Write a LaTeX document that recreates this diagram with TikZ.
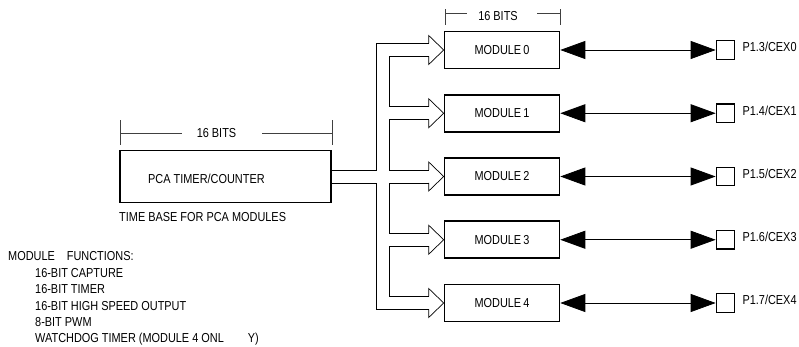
\documentclass[tikz,border=0pt]{standalone}
\usepackage{fontspec}
\setmainfont{Liberation Sans}[FakeStretch=0.84]
\usetikzlibrary{arrows.meta,calc}

\tikzset{
  modbox/.style={draw, line width=1.6pt, minimum width=115pt, minimum height=37pt, inner sep=0pt},
  pcabox/.style={draw, line width=1.6pt, minimum width=211pt, minimum height=52pt},
  pinbox/.style={draw, line width=1.2pt, minimum size=18.5pt, inner sep=0pt},
  lbl/.style={inner sep=0pt, anchor=base west},
  bus/.style={line width=0.7pt},
  dimline/.style={line width=0.7pt, black!75},
  biarrow/.style={line width=0.8pt, {Triangle[length=25pt,width=18pt]}-{Triangle[length=25pt,width=18pt]}},
}

\begin{document}
\begin{tikzpicture}[x=1pt,y=1pt,font=\fontsize{13}{15}\selectfont]
    \useasboundingbox (0,0) rectangle (799,347);
    % timer/counter
    \node[pcabox] (pca) at (225.5,170.5) {};
    \node[lbl] (pcaname) at (148,163.7) {PCA TIMER/COUNTER};
    \node[lbl] (pcabase) at (119,125.3) {TIME BASE FOR PCA MODULES};
    \draw[dimline] (120,202) -- (120,227) (332,202) -- (332,227);
    \draw[dimline] (120,214) -- (182,214) (262,214) -- (332,214);
    \node[inner sep=0pt, anchor=base] (pcabits) at (216.5,209) {16 BITS};
    % modules and pins
    \draw[dimline] (445,322) -- (445,338) (560,322) -- (560,338);
    \draw[dimline] (445,334) -- (467,334) (537,334) -- (560,334);
    \node[inner sep=0pt, anchor=base] (modbits) at (498,326.5) {16 BITS};
    \foreach \i in {0,...,4} {
        \pgfmathtruncatemacro{\pn}{\i+3}
        \node[modbox] (m\i) at (502,{297-63.25*\i}) {MODULE\,\i};
        \node[pinbox] (p\i) at (725.5,{297-63.25*\i}) {};
        \node[lbl] (pl\i) at ($(p\i.east)+(7,-2)$) {P1.\pn/CEX\i};
        \draw[biarrow] (m\i.east) -- (p\i.west);
    }
    % hollow bus
    \foreach \i in {0,...,4} {
        \coordinate (tip\i) at (m\i.west);
        \coordinate (up\i) at ($(tip\i)+(-15,6.5)$);
        \coordinate (lo\i) at ($(tip\i)+(-15,-6.5)$);
        \draw[bus] (up\i) -- ++(0,8) -- (tip\i) -- ($(lo\i)+(0,-8)$) -- (lo\i);
    }
    \coordinate (outer) at (376,0);
    \coordinate (inner) at (389,0);
    \draw[bus] ($(pca.east)+(0,6.5)$) -| (outer |- up0) -- (up0);
    \foreach \i [evaluate=\i as \j using int(\i+1)] in {0,...,3}
        \draw[bus] (lo\i) -| (inner |- up\j) -- (up\j);
    \draw[bus] (lo4) -| ($(outer |- pca.east)+(0,-6.5)$) -- ($(pca.east)+(0,-6.5)$);
    % functions list
    \node[lbl] (funcs) at (8,86) {MODULE\hspace{12pt}FUNCTIONS:};
    \foreach \t [count=\k] in {16-BIT CAPTURE, 16-BIT TIMER, 16-BIT HIGH SPEED OUTPUT, 8-BIT PWM, {WATCHDOG TIMER (MODULE 4 ONL\hspace{24pt}Y)}}
        \node[lbl] (fn\k) at (35,{86-16.4*\k}) {\t};
\end{tikzpicture}
\end{document}
